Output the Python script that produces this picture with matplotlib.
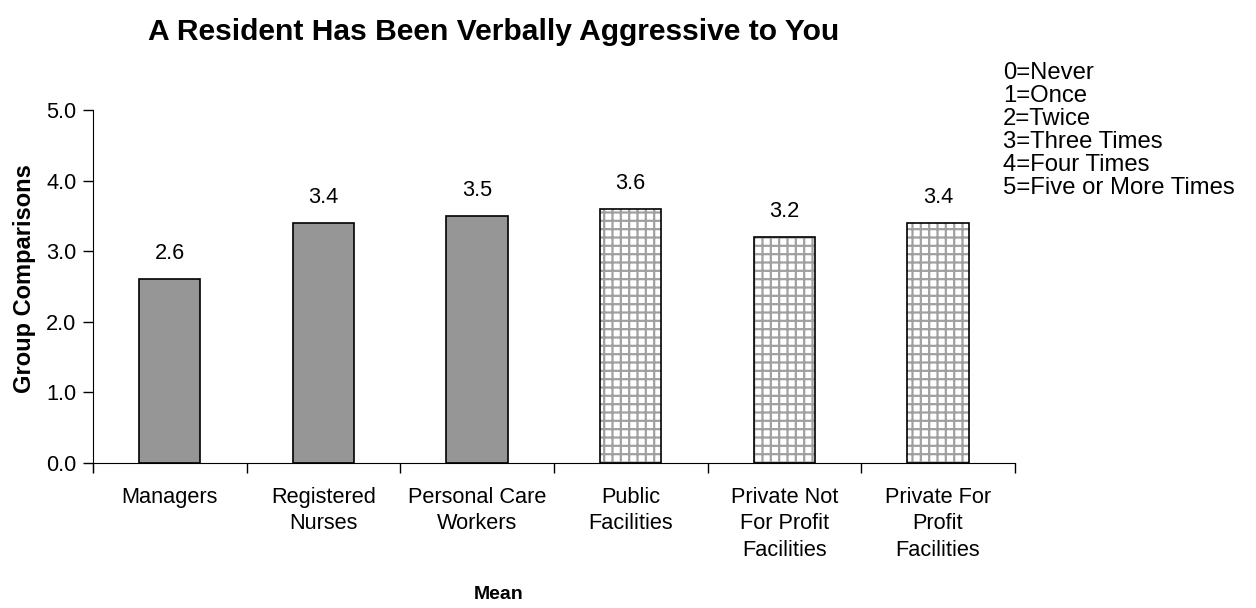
import matplotlib
matplotlib.use("Agg")
from matplotlib import pyplot as plt
import numpy as np

categories = ['Managers', 'Registered\nNurses', 'Personal Care\nWorkers', 'Public\nFacilities',
              'Private Not\nFor Profit\nFacilities', 'Private For\nProfit\nFacilities']
means = [2.6, 3.4, 3.5, 3.6, 3.2, 3.4]
hatched = [False, False, False, True, True, True]
yticks = [0.0, 1.0, 2.0, 3.0, 4.0, 5.0]
key_lines = ['0=Never', '1=Once', '2=Twice', '3=Three Times', '4=Four Times', '5=Five or More Times']

plt.rcParams['font.family'] = ['Liberation Sans', 'DejaVu Sans']
plt.rcParams['hatch.linewidth'] = 1.6

fig = plt.figure(figsize=(12.56, 6.08), dpi=100)
ax = fig.add_axes([0.074, 0.2245, 0.734, 0.5946])

x = np.arange(len(categories))
width = 0.4
for xi, m, h in zip(x, means, hatched):
    if h:
        # grey grid hatch on white, then black outline on top
        ax.bar(xi, m, width, color='white', edgecolor='#a0a0a0', hatch='++', linewidth=0)
        ax.bar(xi, m, width, color='none', edgecolor='black', linewidth=1.2)
    else:
        ax.bar(xi, m, width, color='#969696', edgecolor='black', linewidth=1.2)
    ax.annotate('%.1f' % m, (xi, m), xytext=(0, 11), textcoords='offset points',
                ha='center', va='bottom', fontsize=15.7)

# spines first: set_position resets tick settings
ax.spines['top'].set_visible(False)
ax.spines['right'].set_visible(False)
ax.spines['bottom'].set_position(('data', 0))
ax.spines['left'].set_bounds(-0.12, 5)

ax.set_xlim(-0.5, len(categories) - 0.5)
ax.set_ylim(-0.12, 5)
ax.set_yticks(yticks)
ax.set_yticklabels(['%.1f' % v for v in yticks])
ax.set_xticks(x)
ax.set_xticklabels(categories, linespacing=1.35)
ax.set_xticks(np.arange(len(categories) + 1) - 0.5, minor=True)
ax.tick_params(axis='x', which='major', length=0, pad=17, labelsize=15.7)
ax.tick_params(axis='x', which='minor', length=7, width=1, direction='out')
ax.tick_params(axis='y', length=7, width=1, direction='out', pad=5, labelsize=15.7)

ax.set_ylabel('Group Comparisons', fontsize=17, fontweight='bold')
ax.yaxis.set_label_coords(-0.062, 0.535)
fig.text(0.397, 0.023, 'Mean', fontsize=14, fontweight='bold', ha='center', va='center')
fig.text(0.393, 0.947, 'A Resident Has Been Verbally Aggressive to You', fontsize=21.6,
         fontweight='bold', ha='center', va='center')
fig.text(0.7985, 0.898, '\n'.join(key_lines), fontsize=17.2, ha='left', va='top', linespacing=1.06)

fig.savefig('out.png', dpi=100)
